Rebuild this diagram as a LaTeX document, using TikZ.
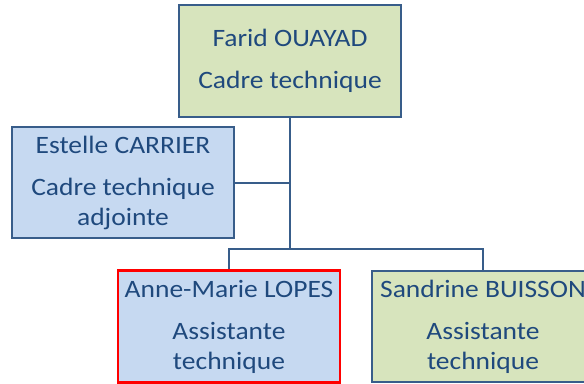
\documentclass[tikz,border=0pt]{standalone}
\usepackage{fontspec}
\setmainfont[FakeStretch=1.1]{Carlito}
\usetikzlibrary{positioning}
\definecolor{boxline}{HTML}{385D8A}
\definecolor{boxtext}{HTML}{1F497D}
\definecolor{boxgreen}{HTML}{D7E4BD}
\definecolor{boxblue}{HTML}{C6D9F1}
\tikzset{
  every picture/.style={line width=1.5pt},
  person/.style={draw=boxline,rectangle,minimum width=166.5pt,minimum height=83.5pt,
    align=center,inner sep=0pt,text=boxtext,font=\fontsize{18.75}{22.5}\selectfont},
  chef/.style={person,fill=boxgreen},
  adj/.style={person,fill=boxblue},
  moi/.style={person,fill=boxblue,draw=red,line width=2.2pt},
  link/.style={draw=boxline,line width=1.5pt},
}

\begin{document}
\begin{tikzpicture}[x=0.75pt,y=-0.75pt]
\useasboundingbox (0,0) rectangle (584,383);
% head of the unit
\node[chef] (farid) at (290,61) {Farid OUAYAD\\[9pt]Cadre technique};
% deputy
\node[adj] (estelle) at (123,182.5) {Estelle CARRIER\\[9pt]Cadre technique\\adjointe};
% assistants
\node[moi] (anne) at (229,326.5) {Anne-Marie LOPES\\[9pt]Assistante\\technique};
\node[chef] (sandrine) at (483,326.5) {Sandrine BUISSON\\[9pt]Assistante\\technique};
% connectors
\coordinate (bus) at (290,249);
\draw[link] (farid.south) -- (bus);
\draw[link] (estelle.east) -- (estelle.east -| farid.south);
\draw[link] (anne.north) |- (bus) -| (sandrine.north);
\end{tikzpicture}
\end{document}
